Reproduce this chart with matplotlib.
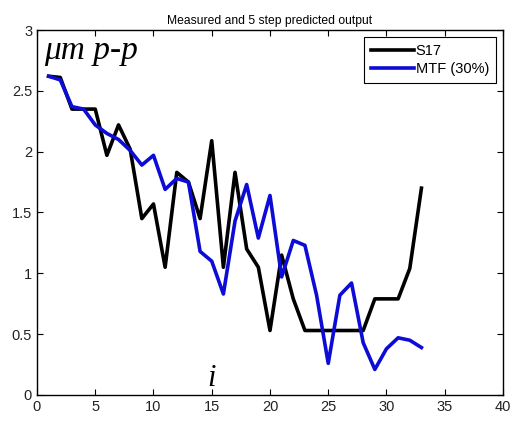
import matplotlib.pyplot as plt

# sample index
idx = list(range(1, 34))

# measured S17 (um p-p)
s17 = [2.62, 2.61, 2.35, 2.35, 2.35, 1.97, 2.22, 2.02, 1.45, 1.57,
       1.05, 1.83, 1.75, 1.45, 2.09, 1.05, 1.83, 1.20, 1.05, 0.53,
       1.15, 0.79, 0.53, 0.53, 0.53, 0.53, 0.53, 0.53, 0.79, 0.79,
       0.79, 1.04, 1.70]

# 5 step prediction MTF (30%)
mtf = [2.62, 2.59, 2.37, 2.35, 2.22, 2.15, 2.10, 2.01, 1.89, 1.97,
       1.69, 1.78, 1.75, 1.18, 1.10, 0.83, 1.43, 1.73, 1.29, 1.64,
       0.97, 1.27, 1.23, 0.82, 0.26, 0.82, 0.92, 0.43, 0.21, 0.38,
       0.47, 0.45, 0.39]

plt.rcParams['font.family'] = ['Liberation Sans', 'DejaVu Sans']

fig = plt.figure(figsize=(5.18, 4.21), dpi=100, facecolor='white')
ax = fig.add_axes([0.0714, 0.0618, 0.8996, 0.8669])

ax.plot(idx, s17, color='black', linewidth=2.6, label='S17')
ax.plot(idx, mtf, color='#0c0cd6', linewidth=2.6, label='MTF (30%)')

ax.set_xlim(0, 40)
ax.set_ylim(0, 3)
ax.set_xticks(range(0, 41, 5))
ax.set_yticks([0, 0.5, 1, 1.5, 2, 2.5, 3])
ax.set_yticklabels(['0', '0.5', '1', '1.5', '2', '2.5', '3'])
ax.tick_params(direction='in', top=True, right=True, labelsize=10.5,
               length=4, labelcolor='#222222')
for sp in ax.spines.values():
    sp.set_linewidth(1.0)

ax.set_title("Measured and 5 step predicted output", fontsize=8.7, pad=4)

# axis annotations drawn inside the plot
serif = ['Liberation Serif', 'DejaVu Serif']
ax.text(0.6, 2.76, "\u03bcm p-p", fontsize=24, family=serif,
        fontstyle='italic')
ax.text(15.0, 0.07, "i", fontsize=22, family=serif, fontstyle='italic',
        ha='center')

leg = ax.legend(loc='upper right', fontsize=10.5, handlelength=3.0,
                fancybox=False, edgecolor='black', framealpha=1,
                borderaxespad=0.5, handletextpad=0.1, labelspacing=0.3,
                borderpad=0.45)
leg.get_frame().set_linewidth(0.8)

plt.savefig('out.png', dpi=100, facecolor='white')
